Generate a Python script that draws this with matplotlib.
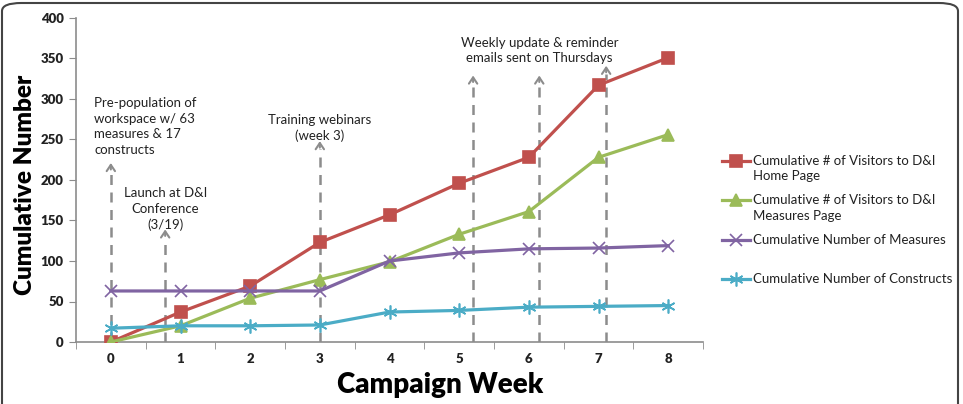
import matplotlib
matplotlib.use("Agg")
import matplotlib.pyplot as plt
from matplotlib.lines import Line2D
from matplotlib.patches import FancyBboxPatch

plt.rcParams['font.family'] = ['Lato', 'DejaVu Sans']

weeks = [0, 1, 2, 3, 4, 5, 6, 7, 8]
home_page = [0, 37, 69, 123, 157, 196, 228, 317, 351]
measures_page = [0, 20, 54, 77, 99, 133, 161, 228, 256]
num_measures = [63, 63, 63, 63, 100, 110, 115, 116, 119]
num_constructs = [17, 20, 20, 21, 37, 39, 43, 44, 45]

series_labels = ["Cumulative # of Visitors to D&I\nHome Page",
                 "Cumulative # of Visitors to D&I\nMeasures Page",
                 "Cumulative Number of Measures",
                 "Cumulative Number of Constructs"]
colors = ["#C0504D", "#9BBB59", "#8064A2", "#4BACC6"]
markers = ["s", "^", "x", (6, 2, 0)]
msizes = [8, 8, 9, 10]

# events: x position, arrow top value
event_x = [0, 0.78, 3, 5.2, 6.15, 7.11]
event_top = [215, 133, 242, 323, 323, 335]
event_texts = ["Pre-population of\nworkspace w/ 63\nmeasures & 17\nconstructs",
               "Launch at D&I\nConference\n(3/19)",
               "Training webinars\n(week 3)",
               "Weekly update & reminder\nemails sent on Thursdays"]

fig = plt.figure(figsize=(9.63, 4.04), dpi=100)
ax = fig.add_axes([76/963, 1-342/404, (703-76)/963, (342-18)/404])

gray = "#8C8C8C"
for x, t in zip(event_x, event_top):
    ax.plot([x, x], [0, t - 4], ls=(0, (4, 3)), color=gray, lw=1.8, zorder=1)
    ax.annotate("", xy=(x, t + 6), xytext=(x, t - 2),
                arrowprops=dict(arrowstyle="->,head_length=0.45,head_width=0.3",
                                color=gray, lw=1.5, shrinkA=0, shrinkB=0))

data = [home_page, measures_page, num_measures, num_constructs]
for vals, c, m, ms in zip(data, colors, markers, msizes):
    ax.plot(weeks, vals, color=c, lw=2.3, marker=m, ms=ms, mec=c, mfc=c,
            mew=1.2, zorder=3)

ax.set_xlim(-0.5, 8.5)
ax.set_ylim(0, 400)
ax.set_yticks(range(0, 401, 50))
ax.set_xticks(weeks)
ax.set_xticks([w - 0.5 for w in weeks] + [8.5], minor=True)
ax.tick_params(axis='x', which='major', length=0, pad=8)
ax.tick_params(axis='x', which='minor', length=5, color=gray, direction='out')
ax.tick_params(axis='y', length=5, color=gray, pad=4)
for lab in ax.get_xticklabels() + ax.get_yticklabels():
    lab.set_fontsize(9.5)
    lab.set_fontweight('heavy')
    lab.set_color('#222222')
for s in ['top', 'right']:
    ax.spines[s].set_visible(False)
for s in ['left', 'bottom']:
    ax.spines[s].set_color(gray)
    ax.spines[s].set_linewidth(1.2)

ax.set_ylabel("Cumulative Number", fontsize=17.5, fontweight='heavy')
ax.set_xlabel("Campaign Week", fontsize=20, fontweight='heavy')
ax.yaxis.set_label_coords(-0.064, 0.485)
ax.xaxis.set_label_coords(0.58, -0.093)

tk = dict(fontsize=9.5, color='#222222', linespacing=1.35)
ax.text(-0.24, 302, event_texts[0], ha='left', va='top', **tk)
ax.text(0.78, 191, event_texts[1], ha='center', va='top', **tk)
ax.text(3.0, 282, event_texts[2], ha='center', va='top', **tk)
ax.text(6.15, 377, event_texts[3], ha='center', va='top', **tk)

# legend
leg_y = [161, 200, 240, 279]
for lbl, c, m, ms, y in zip(series_labels, colors, markers, msizes, leg_y):
    yf = 1 - y/404
    fig.add_artist(Line2D([722/963, 750/963], [yf, yf], transform=fig.transFigure,
                          color=c, lw=2.3))
    fig.add_artist(Line2D([736/963], [yf], transform=fig.transFigure, color=c,
                          marker=m, ms=ms, mec=c, mfc=c, mew=1.2, lw=0))
    fig.text(753/963, yf + 6/404, lbl, ha='left', va='top', fontsize=9.5,
             color='#222222', linespacing=1.35)

border = FancyBboxPatch((2/963, -0.1), 956/963, 1.1 - 3/404,
                        boxstyle="round,pad=0,rounding_size=0.02",
                        transform=fig.transFigure, fill=False,
                        ec="#444444", lw=1.5)
fig.add_artist(border)

fig.savefig("out.png", dpi=100)
